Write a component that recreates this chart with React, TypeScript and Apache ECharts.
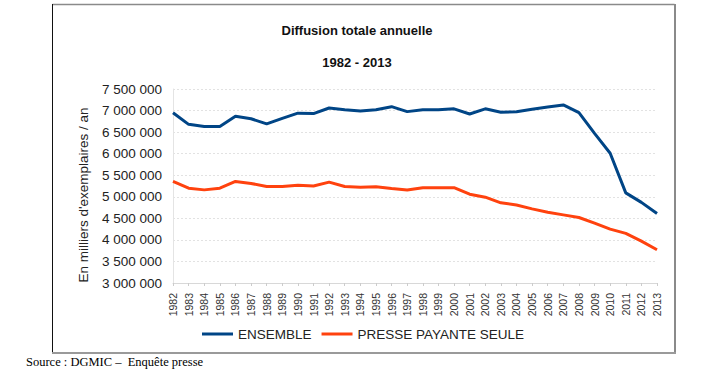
import React, { useEffect, useRef } from "react";
import * as echarts from "echarts";

const years = [
  "1982", "1983", "1984", "1985", "1986", "1987", "1988", "1989", "1990", "1991",
  "1992", "1993", "1994", "1995", "1996", "1997", "1998", "1999", "2000", "2001",
  "2002", "2003", "2004", "2005", "2006", "2007", "2008", "2009", "2010", "2011",
  "2012", "2013",
];

const ensemble = [
  6950000, 6680000, 6630000, 6630000, 6870000, 6810000, 6690000, 6820000, 6940000, 6930000,
  7060000, 7020000, 6990000, 7020000, 7090000, 6975000, 7020000, 7020000, 7040000, 6920000,
  7040000, 6960000, 6970000, 7030000, 7080000, 7130000, 6950000, 6470000, 6010000, 5090000,
  4870000, 4610000,
];

const presse = [
  5355000, 5200000, 5160000, 5200000, 5355000, 5310000, 5240000, 5240000, 5270000, 5250000,
  5340000, 5240000, 5220000, 5230000, 5190000, 5155000, 5210000, 5210000, 5210000, 5060000,
  4990000, 4860000, 4810000, 4720000, 4640000, 4580000, 4520000, 4390000, 4250000, 4150000,
  3970000, 3770000,
];

const seriesNames = ["ENSEMBLE", "PRESSE PAYANTE SEULE"];
const titleLines = ["Diffusion totale annuelle", "1982 - 2013"];
const yAxisTitle = "En milliers d'exemplaires / an";
const sourceText = "Source : DGMIC –  Enquête presse";

export default function App() {
  const ref = useRef<HTMLDivElement>(null);
  useEffect(() => {
    if (!ref.current) return;
    const chart = echarts.init(ref.current, undefined, { renderer: "svg" });
    const sans = "'Liberation Sans', Arial, sans-serif";
    chart.setOption({
      animation: false,
      backgroundColor: "#ffffff",
      textStyle: { fontFamily: sans },
      grid: { left: 173, right: 51, top: 89, bottom: 99, containLabel: false },
      legend: {
        left: 202,
        top: 327,
        padding: 0,
        itemWidth: 31,
        itemHeight: 3,
        itemGap: 10,
        icon: "rect",
        textStyle: { fontSize: 13.5, color: "#222", fontFamily: sans },
        data: seriesNames,
      },
      xAxis: {
        type: "category",
        data: years,
        boundaryGap: false,
        axisLine: { lineStyle: { color: "#d8d8d8" } },
        axisTick: { show: true, length: 3, lineStyle: { color: "#cccccc" } },
        axisLabel: {
          rotate: 90,
          interval: 0,
          fontSize: 10.5,
          color: "#333",
          margin: 10,
          fontFamily: sans,
        },
        splitLine: { show: false },
      },
      yAxis: {
        type: "value",
        min: 3000000,
        max: 7500000,
        interval: 500000,
        axisLine: { show: true, lineStyle: { color: "#e4e4e4" } },
        axisTick: { show: false },
        axisLabel: {
          fontSize: 13.5,
          color: "#222",
          margin: 11,
          fontFamily: sans,
          formatter: (v: number) => String(v).replace(/\B(?=(\d{3})+(?!\d))/g, " "),
        },
        splitLine: { lineStyle: { color: "#e2e2e2", type: [2, 2], width: 1 } },
      },
      series: [
        {
          name: seriesNames[0],
          type: "line",
          data: ensemble,
          symbol: "none",
          color: "#004586",
          lineStyle: { width: 3, color: "#004586" },
        },
        {
          name: seriesNames[1],
          type: "line",
          data: presse,
          symbol: "none",
          color: "#ff420e",
          lineStyle: { width: 3, color: "#ff420e" },
        },
      ],
      graphic: [
        { type: "line", shape: { x1: 52.5, y1: 4.5, x2: 674.5, y2: 4.5 }, style: { stroke: "#8a8a8a", lineWidth: 1.5 } },
        { type: "line", shape: { x1: 52.5, y1: 4, x2: 52.5, y2: 353 }, style: { stroke: "#111", lineWidth: 1 } },
        { type: "line", shape: { x1: 675, y1: 4, x2: 675, y2: 353.5 }, style: { stroke: "#8a8a8a", lineWidth: 2 } },
        { type: "line", shape: { x1: 52, y1: 353, x2: 676, y2: 353 }, style: { stroke: "#9a9a9a", lineWidth: 2 } },
        {
          type: "text",
          x: 357,
          y: 30,
          style: { text: titleLines[0], font: `bold 13px ${sans}`, fill: "#111", align: "center", verticalAlign: "middle" },
        },
        {
          type: "text",
          x: 357,
          y: 62,
          style: { text: titleLines[1], font: `bold 13px ${sans}`, fill: "#111", align: "center", verticalAlign: "middle" },
        },
        {
          type: "text",
          x: 83,
          y: 195,
          rotation: Math.PI / 2,
          style: { text: yAxisTitle, font: `13.5px ${sans}`, fill: "#222", align: "center", verticalAlign: "middle" },
        },
        {
          type: "text",
          x: 26,
          y: 362,
          style: { text: sourceText, font: "12.5px 'Liberation Serif', 'Times New Roman', serif", fill: "#000", align: "left", verticalAlign: "middle" },
        },
      ],
    });
    return () => chart.dispose();
  }, []);
  return (
    <div
      ref={ref}
      style={{ position: "fixed", left: 0, top: 0, width: 708, height: 382, background: "#fff" }}
    />
  );
}
